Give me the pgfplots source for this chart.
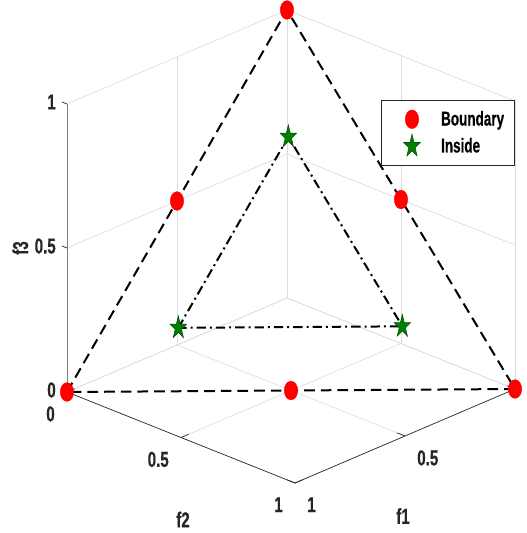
\documentclass[border=0pt]{standalone}
\usepackage{fontspec}
\setmainfont{Liberation Sans}[BoldFont={Liberation Sans Bold}, BoldFeatures={FakeBold=0.6}]
\usepackage{graphicx}
\usepackage{pgfplots}
\pgfplotsset{compat=1.18}
\definecolor{axgray}{HTML}{262626}
\definecolor{gridgray}{HTML}{DEDEDE}
\definecolor{mgreen}{HTML}{008000}
\newcommand{\lab}[1]{\scalebox{0.70}[1]{\fontsize{16.2}{19}\selectfont\bfseries #1}}
\newcommand{\leg}[1]{\scalebox{0.675}[1]{\fontsize{15}{18}\selectfont\bfseries #1}}
\pgfdeclareplotmark{fstar}{%
  \pgfpathmoveto{\pgfpointpolar{90}{\pgfplotmarksize}}%
  \pgfpathlineto{\pgfpointpolar{126}{0.382\pgfplotmarksize}}%
  \pgfpathlineto{\pgfpointpolar{162}{\pgfplotmarksize}}%
  \pgfpathlineto{\pgfpointpolar{198}{0.382\pgfplotmarksize}}%
  \pgfpathlineto{\pgfpointpolar{234}{\pgfplotmarksize}}%
  \pgfpathlineto{\pgfpointpolar{270}{0.382\pgfplotmarksize}}%
  \pgfpathlineto{\pgfpointpolar{306}{\pgfplotmarksize}}%
  \pgfpathlineto{\pgfpointpolar{342}{0.382\pgfplotmarksize}}%
  \pgfpathlineto{\pgfpointpolar{18}{\pgfplotmarksize}}%
  \pgfpathlineto{\pgfpointpolar{54}{0.382\pgfplotmarksize}}%
  \pgfpathclose
  \pgfusepathqfillstroke
}
\begin{document}
\begin{tikzpicture}
\begin{axis}[
  x={(-165pt,-70.5pt)}, y={(171pt,-68.25pt)}, z={(0pt,216pt)},
  xmin=0, xmax=1, ymin=0, ymax=1, zmin=0, zmax=1,
  xtick={0,0.5,1}, ytick={0,0.5,1}, ztick={0,0.5,1},
  xticklabel=\empty, yticklabel=\empty, zticklabel=\empty,
  major tick length=0pt,
  grid=major,
  major grid style={gridgray, line width=0.5pt},
  axis line style={draw=none},
  clip=false,
  legend image code/.code={\path (-16.5pt,-9.75pt) (19.5pt,9.75pt); \draw[#1] plot coordinates {(0pt,0pt)};},
  legend style={at={(axis description cs:0.701,0.81)}, anchor=north west,
    draw=axgray, line width=0.7pt, fill=white,
    cells={anchor=west, inner xsep=0pt, inner ysep=0pt},
    inner xsep=6pt, inner ysep=4.1pt, row sep=0pt, column sep=0pt},
]
\coordinate (O) at (axis cs:0,0,0);
% axis lines and ticks
\draw[axgray, line width=0.5pt] (axis cs:1,0,0) -- (axis cs:1,1,0) -- (axis cs:0,1,0);
\draw[gray, line width=0.7pt] (axis cs:1,0,0) -- (axis cs:1,0,1);
\pgfplotsinvokeforeach{0,0.5,1}{
  \draw[axgray, line width=0.5pt] (axis cs:1,0,#1) -- (axis cs:1,-0.022,#1);
  \draw[axgray, line width=0.5pt] (axis cs:1,#1,0) -- (axis cs:0.965,#1,0);
  \draw[axgray, line width=0.5pt] (axis cs:#1,1,0) -- (axis cs:#1,0.965,0);
}
% tick labels
\pgfplotsinvokeforeach{0,0.5,1}{
  \node[anchor=east, inner sep=0pt, xshift=-8.25pt, yshift=1.5pt, text=axgray] at (axis cs:1,0,#1) {\lab{#1}};
  \node[anchor=north east, inner sep=0pt, xshift=-9pt, yshift=-10.5pt, text=axgray] at (axis cs:1,#1,0) {\lab{#1}};
  \node[anchor=north west, inner sep=0pt, xshift=9pt, yshift=-10.5pt, text=axgray] at (axis cs:#1,1,0) {\lab{#1}};
}
\node[rotate=90, inner sep=0pt, yshift=35pt, text=axgray] at (axis cs:1,0,0.5) {\lab{f3}};
\node[inner sep=0pt, xshift=1.5pt, yshift=-61.5pt, text=axgray] at (axis cs:1,0.5,0) {\lab{f2}};
\node[inner sep=0pt, xshift=-1.5pt, yshift=-60pt, text=axgray] at (axis cs:0.5,1,0) {\lab{f1}};
% data
\addplot3[only marks, mark=*, mark size=7pt, mark options={xscale=0.72, fill=red, draw=red, line width=0.3pt}]
  coordinates {(1,0,0) (0,1,0) (0,0,1) (0.5,0.5,0) (0.5,0,0.5) (0,0.5,0.5)};
\addlegendentry{\leg{Boundary}}
\addplot3[only marks, mark=fstar, mark size=9pt, mark options={xscale=0.72, fill=mgreen, draw=mgreen!60!black, line width=0.4pt}]
  coordinates {(0.6667,0.1667,0.1667) (0.1667,0.6667,0.1667) (0.1667,0.1667,0.6667)};
\addlegendentry{\leg{Inside}}
\addplot3[forget plot, black, line width=1.5pt, dash pattern=on 8pt off 4.5pt]
  coordinates {(1,0,0) (0,0,1) (0,1,0) (1,0,0)};
\addplot3[forget plot, black, line width=1.5pt, dash pattern=on 7pt off 3pt on 1.5pt off 3pt]
  coordinates {(0.6667,0.1667,0.1667) (0.1667,0.1667,0.6667) (0.1667,0.6667,0.1667) (0.6667,0.1667,0.1667)};
\end{axis}
\pgfresetboundingbox
\path (O) ++(-215.25pt,223.5pt) rectangle ++(395.25pt,-399.75pt);
\end{tikzpicture}
\end{document}
